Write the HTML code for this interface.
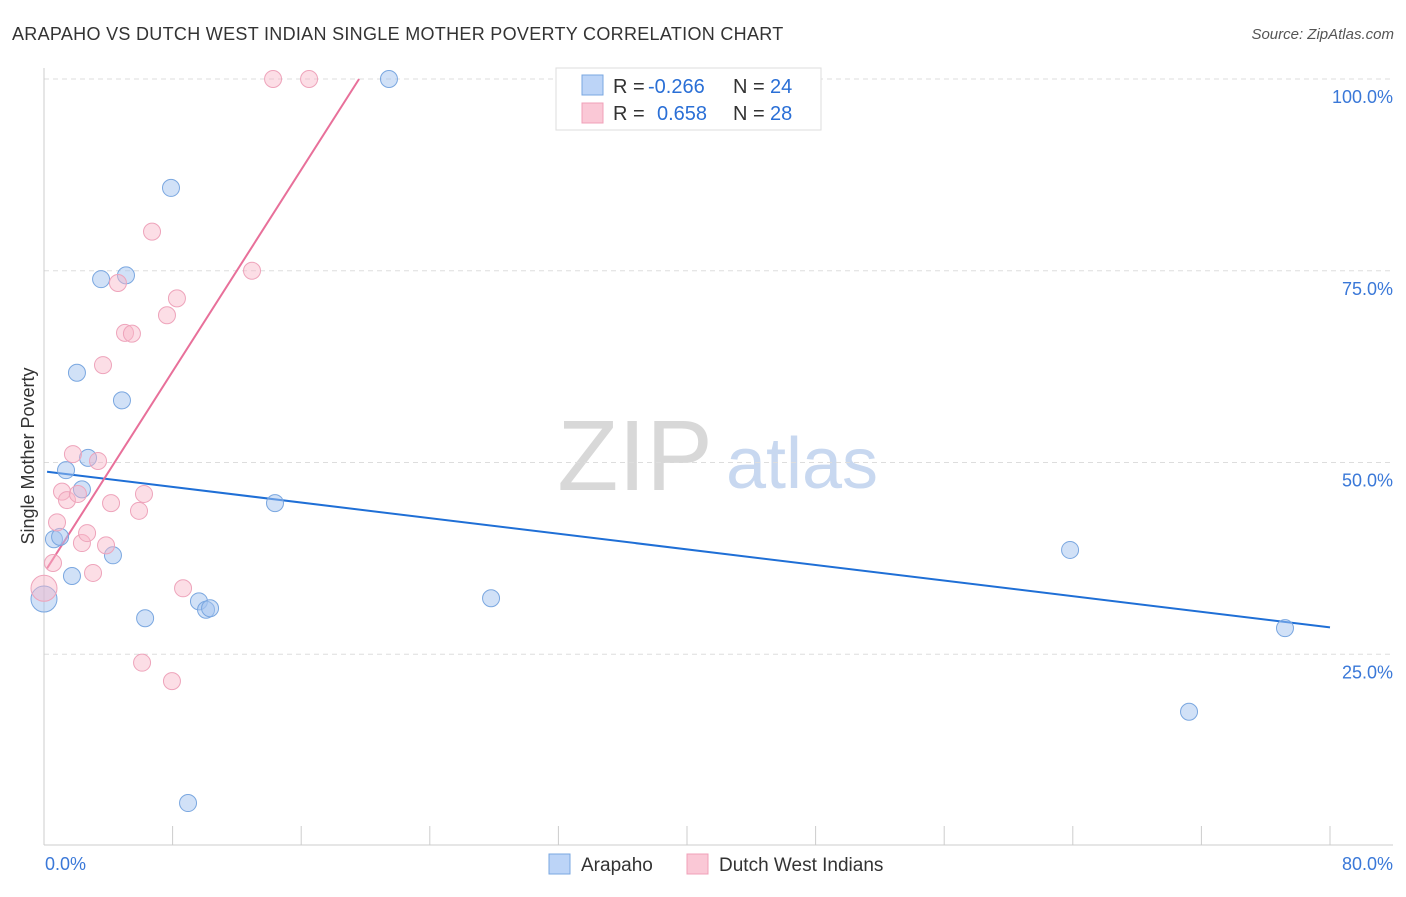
<!DOCTYPE html>
<html><head><meta charset="utf-8"><style>
body{margin:0;background:#fff;font-family:"Liberation Sans",sans-serif;}
svg text{font-family:"Liberation Sans",sans-serif;}
</style></head><body>
<svg id="chart" width="1406" height="892" xmlns="http://www.w3.org/2000/svg">
<text x="12" y="40" font-size="18" fill="#333" letter-spacing="0.3">ARAPAHO VS DUTCH WEST INDIAN SINGLE MOTHER POVERTY CORRELATION CHART</text>
<text x="1394" y="39" font-size="15" fill="#555" text-anchor="end" font-style="italic">Source: ZipAtlas.com</text>
<text x="34" y="456" font-size="18" fill="#333" text-anchor="middle" transform="rotate(-90 34 456)">Single Mother Poverty</text>
<g>
<text x="635" y="490" font-size="100" fill="#d8d8d8" text-anchor="middle" font-family="Liberation Serif">ZIP</text>
<text x="802" y="488" font-size="72" fill="#c8d8f0" text-anchor="middle">atlas</text>
</g>
<g id="grid"></g>
<g id="lines"></g>
<g id="points"></g>
<g>
<rect x="556" y="68" width="265" height="62" fill="#fff" stroke="#ddd"/>
<rect x="582" y="75" width="21" height="20" fill="#bcd4f7" stroke="#7aa7e0"/>
<rect x="582" y="103" width="21" height="20" fill="#fac8d6" stroke="#f0a0b8"/>
<text x="613" y="93" font-size="20" fill="#333">R =</text>
<text x="648" y="93" font-size="20" fill="#2a6fd6">-0.266</text>
<text x="733" y="93" font-size="20" fill="#333">N =</text>
<text x="770" y="93" font-size="20" fill="#2a6fd6">24</text>
<text x="613" y="120" font-size="20" fill="#333">R =</text>
<text x="657" y="120" font-size="20" fill="#2a6fd6">0.658</text>
<text x="733" y="120" font-size="20" fill="#333">N =</text>
<text x="770" y="120" font-size="20" fill="#2a6fd6">28</text>
</g>
<g>
<rect x="549" y="854" width="21" height="20" fill="#bcd4f7" stroke="#7aa7e0"/>
<text x="581" y="871" font-size="19" fill="#333">Arapaho</text>
<rect x="687" y="854" width="21" height="20" fill="#fac8d6" stroke="#f0a0b8"/>
<text x="719" y="871" font-size="19" fill="#333">Dutch West Indians</text>
</g>
</svg>
<script>
const blueX=[0,0.62,1.0,1.37,1.74,2.05,2.36,2.74,3.55,4.29,4.85,5.1,6.29,7.9,8.96,9.64,10.08,10.33,14.37,21.46,27.81,63.83,71.23,77.2];
const blueY=[32.2,40.0,40.3,49.0,35.2,61.7,46.5,50.6,73.9,37.9,58.1,74.4,29.7,85.8,5.6,31.9,30.8,31.0,44.7,100,32.3,38.6,17.5,28.4];
const pinkX=[0,0.56,0.81,1.12,1.43,1.8,2.11,2.36,2.68,3.05,3.36,3.86,4.17,4.6,5.04,5.47,3.67,5.91,6.1,6.22,6.72,7.65,7.96,8.27,8.65,12.94,14.25,16.49];
const pinkY=[33.6,36.9,42.2,46.2,45.1,51.1,45.9,39.5,40.8,35.6,50.2,39.2,44.7,73.4,66.9,66.8,62.7,43.7,23.9,45.9,80.1,69.2,21.5,71.4,33.6,75.0,100,100];
const blueLine=[0.19,48.8,80,28.5];
const pinkLine=[0.19,36.2,19.6,100];
const yTicks=[25,50,75,100];
const xTickLabels=["0.0%","80.0%"];
const NS="http://www.w3.org/2000/svg";
function sx(v){return 44+v*16.075;}
function sy(v){return 846-v*7.67;}
function mk(t,a,p){const e=document.createElementNS(NS,t);for(const k in a)e.setAttribute(k,a[k]);p.appendChild(e);return e;}
const grid=document.getElementById('grid');
yTicks.forEach(t=>{
 const l=mk('line',{x1:44,x2:1393,y1:sy(t),y2:sy(t),stroke:'#ddd','stroke-dasharray':'5,4'},grid);
 
 
 const tx=mk('text',{x:1393,y:sy(t)+24,'font-size':18,fill:'#3a78d8','text-anchor':'end'},grid);
 tx.textContent=t.toFixed(1)+'%';
 
 
});
const ax=mk('line',{x1:44,x2:1393,y1:845,y2:845,stroke:'#ccc'},grid);


const ay=mk('line',{x1:44,x2:44,y1:68,y2:845,stroke:'#ccc'},grid);


for(let i=0;i<=10;i++){
 const t=mk('line',{x1:sx(i*8),x2:sx(i*8),y1:826,y2:845,stroke:'#ccc'},grid);
 
 
}
[[0,'start',45],[80,'end',1393]].forEach((d,i)=>{
 const t=mk('text',{x:d[2],y:870,'font-size':18,fill:'#3a78d8','text-anchor':d[1]},grid);
 t.textContent=xTickLabels[i];
 
 
});
const pts=document.getElementById('points');
function draw(xs,ys,fill,stroke,name){
 xs.forEach((x,i)=>{
  const c=mk('circle',{cx:sx(x),cy:sy(ys[i]),r:(x===0?13:8.5),fill:fill,stroke:stroke,'stroke-width':1},pts);
  
  
 });
}
draw(blueX,blueY,'rgba(164,196,240,0.5)','#7aa7e0','arapaho-point');
draw(pinkX,pinkY,'rgba(248,182,200,0.45)','#eea4bb','dutch-point');
const lg=document.getElementById('lines');
const bl=mk('line',{x1:sx(blueLine[0]),y1:sy(blueLine[1]),x2:sx(blueLine[2]),y2:sy(blueLine[3]),stroke:'#1f6fd6','stroke-width':2},lg);


const pl=mk('line',{x1:sx(pinkLine[0]),y1:sy(pinkLine[1]),x2:sx(pinkLine[2]),y2:sy(pinkLine[3]),stroke:'#e8709a','stroke-width':2},lg);


</script>
</body></html>
